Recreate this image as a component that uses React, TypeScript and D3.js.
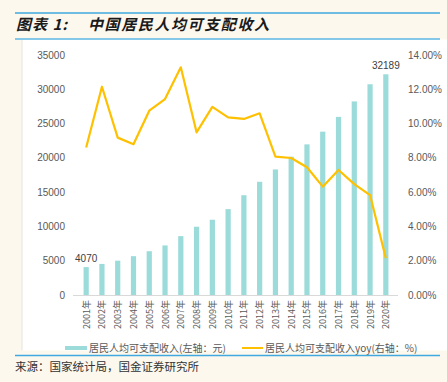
import React from "react";
import * as d3 from "d3";

const years = ["2001年","2002年","2003年","2004年","2005年","2006年","2007年","2008年","2009年","2010年","2011年","2012年","2013年","2014年","2015年","2016年","2017年","2018年","2019年","2020年"];
const income = [4070,4532,5007,5661,6385,7229,8584,9957,10977,12520,14551,16510,18311,20167,21966,23821,25974,28228,30733,32189];
const yoy = [8.6,12.15,9.18,8.79,10.75,11.43,13.28,9.49,10.97,10.36,10.27,10.6,8.07,7.99,7.45,6.32,7.29,6.47,5.83,2.14];
const leftTicks = [0,5000,10000,15000,20000,25000,30000,35000];
const rightTicks = [0,2,4,6,8,10,12,14];

const W = 447, H = 382;
const plotTop = 55, plotBottom = 295, plotLeft = 73, plotRight = 399;
const FONT = "'Liberation Sans', Arial, sans-serif";
const CJK = "'Noto Sans CJK SC', sans-serif";

export default function App() {
  const x = d3.scaleBand<string>().domain(years).range([plotLeft, plotRight]).padding(0.67);
  const yL = d3.scaleLinear().domain([0, 35000]).range([plotBottom, plotTop]);
  const yR = d3.scaleLinear().domain([0, 14]).range([plotBottom, plotTop]);
  const line = d3.line<number>()
    .x((_, i) => (x(years[i]) as number) + x.bandwidth() / 2)
    .y((d) => yR(d));
  const cx = (i: number) => (x(years[i]) as number) + x.bandwidth() / 2;
  const last = years.length - 1;

  return (
    <svg width={W} height={H} style={{ position: "absolute", left: 0, top: 0 }}>
      <rect x={0} y={0} width={W} height={H} fill="#FDF8EE" />
      <line x1={15} x2={440} y1={13} y2={13} stroke="#3FA9DF" strokeWidth={1.5} />
      <text x={16} y={30} fontFamily={CJK} fontSize={15} fontStyle="italic" fontWeight={700} fill="#1a1a1a" letterSpacing={1}>图表 1:</text>
      <text x={88} y={30} fontFamily={CJK} fontSize={15} fontStyle="italic" fontWeight={700} fill="#1a1a1a" letterSpacing={1.6}>中国居民人均可支配收入</text>
      <rect x={22} y={39.5} width={W - 22} height={311} fill="#ffffff" />
      <line x1={22} x2={22} y1={39.5} y2={350.5} stroke="#e8e4dc" strokeWidth={1} />
      <line x1={15} x2={440} y1={39} y2={39} stroke="#5BB8E6" strokeWidth={1.5} />

      {leftTicks.map((t) => (
        <text key={"l" + t} x={65} y={yL(t)} dy="0.35em" textAnchor="end" fontFamily={FONT} fontSize={10} fill="#595959">{t}</text>
      ))}
      {rightTicks.map((t) => (
        <text key={"r" + t} x={408} y={yR(t)} dy="0.35em" textAnchor="start" fontFamily={FONT} fontSize={10} fill="#595959">{t.toFixed(2) + "%"}</text>
      ))}

      {income.map((v, i) => (
        <rect key={"b" + i} x={x(years[i])} y={yL(v)} width={x.bandwidth()} height={plotBottom - yL(v)} fill="#9BDBDA" />
      ))}
      <line x1={plotLeft} x2={plotRight - 1} y1={plotBottom + 0.5} y2={plotBottom + 0.5} stroke="#d9d9d9" strokeWidth={1} />

      <path d={line(yoy) as string} fill="none" stroke="#FFC000" strokeWidth={2.2} strokeLinejoin="round" />

      <text x={cx(0)} y={yL(income[0]) - 5} textAnchor="middle" fontFamily={FONT} fontSize={10} fill="#404040">{income[0]}</text>
      <text x={cx(last)} y={yL(income[last]) - 5} textAnchor="middle" fontFamily={FONT} fontSize={10} fill="#404040">{income[last]}</text>

      {years.map((yv, i) => (
        <text key={"x" + i} transform={`translate(${cx(i) + 3.5},${plotBottom + 5}) rotate(-90)`} textAnchor="end" fontFamily={CJK} fontSize={9} fill="#595959">{yv}</text>
      ))}

      <line x1={65} x2={87} y1={348} y2={348} stroke="#9BDBDA" strokeWidth={4} />
      <text x={89} y={348} dy="0.35em" fontFamily={CJK} fontSize={10} fill="#595959">居民人均可支配收入(左轴：元)</text>
      <line x1={242} x2={263} y1={348} y2={348} stroke="#FFC000" strokeWidth={2} />
      <text x={265} y={348} dy="0.35em" fontFamily={CJK} fontSize={10} fill="#595959">居民人均可支配收入yoy(右轴：%)</text>

      <line x1={15} x2={440} y1={355.5} y2={355.5} stroke="#3FA9DF" strokeWidth={1.5} />
      <text x={15} y={371} fontFamily={CJK} fontSize={11.5} fill="#333333">来源：国家统计局，国金证券研究所</text>
    </svg>
  );
}
